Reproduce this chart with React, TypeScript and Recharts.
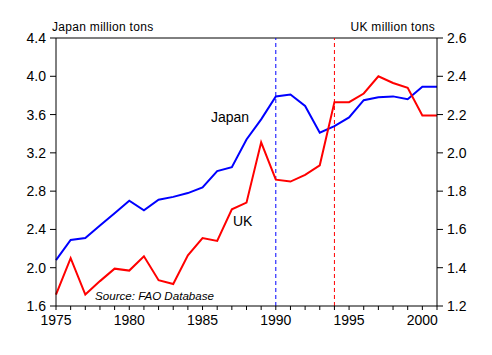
import { LineChart, Line, XAxis, YAxis, ReferenceLine } from 'recharts';

const years = [
  1975, 1976, 1977, 1978, 1979, 1980, 1981, 1982, 1983, 1984, 1985, 1986, 1987, 1988,
  1989, 1990, 1991, 1992, 1993, 1994, 1995, 1996, 1997, 1998, 1999, 2000, 2001,
];
const japan = [
  2.08, 2.29, 2.31, 2.44, 2.57, 2.70, 2.60, 2.71, 2.74, 2.78, 2.84, 3.01, 3.05, 3.34,
  3.55, 3.79, 3.81, 3.69, 3.41, 3.48, 3.57, 3.75, 3.78, 3.79, 3.76, 3.89, 3.89,
];
const uk = [
  1.26, 1.45, 1.26, 1.33, 1.395, 1.385, 1.46, 1.335, 1.315, 1.465, 1.555, 1.54, 1.705, 1.74,
  2.055, 1.86, 1.85, 1.885, 1.935, 2.265, 2.265, 2.31, 2.40, 2.365, 2.34, 2.195, 2.195,
];
const leftTicks = [1.6, 2.0, 2.4, 2.8, 3.2, 3.6, 4.0, 4.4];
const rightTicks = [1.2, 1.4, 1.6, 1.8, 2.0, 2.2, 2.4, 2.6];
const events = [1990, 1994];

const data = years.map((year, i) => ({ year, japan: japan[i], uk: uk[i] }));

const font = '"Liberation Sans", Arial, sans-serif';
const tickStyle = { fontFamily: font, fontSize: 14, fill: '#000' };

export default function App() {
  return (
    <div style={{ position: 'absolute', left: 0, top: 0, width: 492, height: 355, background: '#fff' }}>
      <LineChart
        width={492}
        height={355}
        data={data}
        margin={{ top: 38, right: 15, bottom: 19, left: 16 }}
      >
        <XAxis
          dataKey="year"
          type="number"
          domain={[1975, 2001]}
          ticks={years}
          interval={0}
          tickFormatter={(v: number) => (v % 5 === 0 ? String(v) : '')}
          tick={tickStyle}
          tickSize={4}
          tickMargin={5}
          height={30}
          stroke="#000"
          tickLine={{ stroke: '#000' }}
        />
        <YAxis
          yAxisId="left"
          domain={[1.6, 4.4]}
          ticks={leftTicks}
          tickFormatter={(v: number) => v.toFixed(1)}
          tick={tickStyle}
          tickSize={6}
          tickMargin={4}
          width={40}
          stroke="#000"
          allowDataOverflow
        />
        <YAxis
          yAxisId="right"
          orientation="right"
          domain={[1.2, 2.6]}
          ticks={rightTicks}
          tickFormatter={(v: number) => v.toFixed(1)}
          tick={tickStyle}
          tickSize={6}
          tickMargin={4}
          width={40}
          stroke="#000"
          allowDataOverflow
        />
        <ReferenceLine yAxisId="left" y={4.4} stroke="#000" />
        <ReferenceLine yAxisId="left" x={events[0]} stroke="#0000ff" strokeDasharray="4 3" />
        <ReferenceLine yAxisId="left" x={events[1]} stroke="#ff0000" strokeDasharray="4 3" />
        <Line
          yAxisId="left"
          dataKey="japan"
          type="linear"
          stroke="#0000ff"
          strokeWidth={2}
          dot={false}
          isAnimationActive={false}
        />
        <Line
          yAxisId="right"
          dataKey="uk"
          type="linear"
          stroke="#ff0000"
          strokeWidth={2}
          dot={false}
          isAnimationActive={false}
        />
      </LineChart>
      <svg
        width={492}
        height={355}
        style={{ position: 'absolute', left: 0, top: 0, pointerEvents: 'none' }}
      >
        <g fontFamily={font} fill="#000">
          <text x={52} y={31} fontSize={12} letterSpacing={0.3}>Japan million tons</text>
          <text x={435} y={31} fontSize={12} letterSpacing={0.3} textAnchor="end">UK million tons</text>
          <text x={211} y={122} fontSize={14}>Japan</text>
          <text x={233} y={226} fontSize={14}>UK</text>
          <text x={95} y={300} fontSize={11.6} fontStyle="italic">Source: FAO Database</text>
        </g>
      </svg>
    </div>
  );
}
